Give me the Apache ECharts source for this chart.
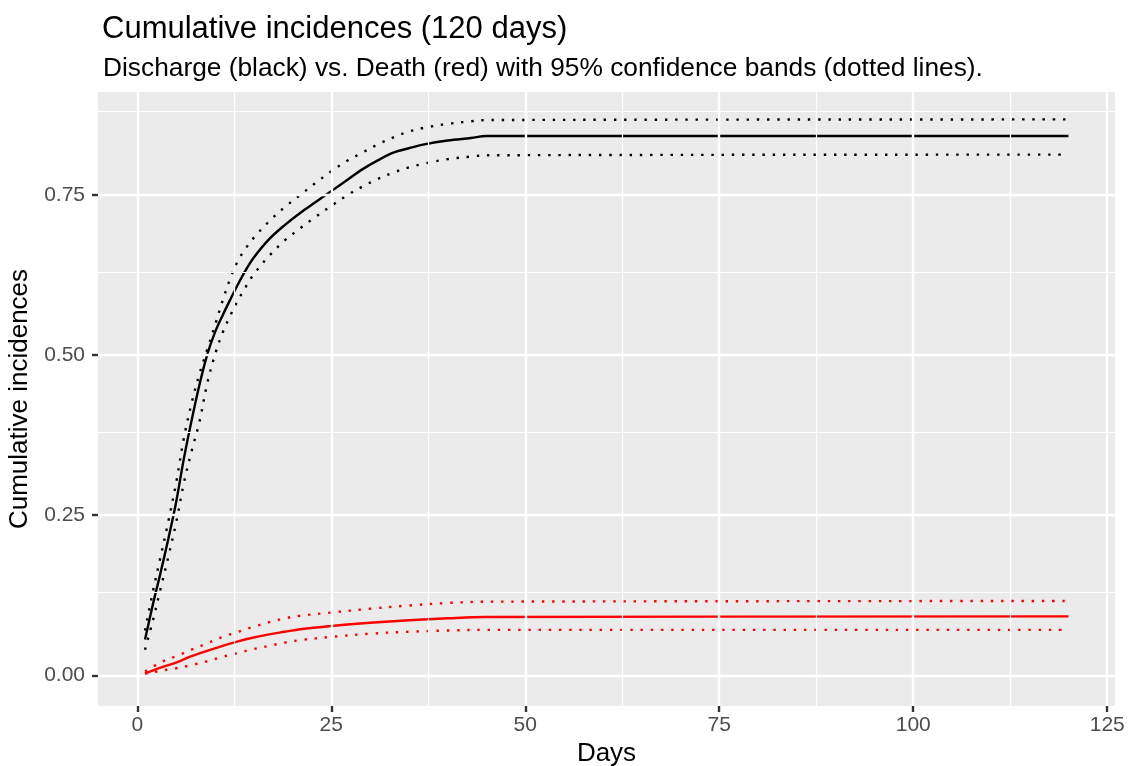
<!DOCTYPE html>
<html>
<head>
<meta charset="utf-8">
<script src="https://cdn.jsdelivr.net/npm/echarts@6/dist/echarts.min.js"></script>
<style>
html,body{margin:0;padding:0;background:#fff;}
#chart{width:1130px;height:766px;}
</style>
</head>
<body>
<div id="chart"></div>
<script>
// ---- data ----
const dischargeDays = [1, 2, 3, 4, 5, 6, 7, 8, 9, 10, 11, 12, 13, 14, 15, 17, 19, 21, 23, 25, 27, 29, 31, 33, 35, 37, 40, 43, 45, 120];
const discharge      = [0.056, 0.110, 0.160, 0.213, 0.270, 0.338, 0.398, 0.453, 0.500, 0.535, 0.562, 0.587, 0.611, 0.633, 0.652, 0.681, 0.703, 0.722, 0.739, 0.756, 0.773, 0.790, 0.804, 0.816, 0.823, 0.829, 0.835, 0.839, 0.842, 0.842];
const dischargeUpper = [0.070, 0.130, 0.185, 0.240, 0.300, 0.370, 0.425, 0.470, 0.508, 0.546, 0.585, 0.620, 0.648, 0.667, 0.683, 0.709, 0.731, 0.750, 0.769, 0.787, 0.803, 0.816, 0.829, 0.840, 0.849, 0.855, 0.861, 0.865, 0.867, 0.868];
const dischargeLower = [0.040, 0.085, 0.135, 0.185, 0.238, 0.300, 0.350, 0.395, 0.455, 0.500, 0.535, 0.562, 0.586, 0.607, 0.626, 0.655, 0.679, 0.698, 0.716, 0.733, 0.749, 0.763, 0.775, 0.785, 0.793, 0.799, 0.806, 0.810, 0.812, 0.813];

const deathDays  = [1, 3, 5, 7, 9, 11, 13, 15, 17, 19, 21, 25, 30, 35, 40, 45, 120];
const death      = [0.003, 0.012, 0.020, 0.030, 0.038, 0.046, 0.053, 0.059, 0.064, 0.068, 0.072, 0.077, 0.082, 0.086, 0.089, 0.091, 0.092];
const deathUpper = [0.006, 0.020, 0.030, 0.040, 0.050, 0.060, 0.068, 0.076, 0.083, 0.089, 0.093, 0.098, 0.104, 0.109, 0.113, 0.115, 0.116];
const deathLower = [0.002, 0.007, 0.011, 0.016, 0.022, 0.029, 0.035, 0.041, 0.046, 0.051, 0.055, 0.060, 0.065, 0.068, 0.070, 0.071, 0.071];

const xTicks = [0, 25, 50, 75, 100, 125];
const xMinor = [12.5, 37.5, 62.5, 87.5, 112.5];
const yTicks = [0, 0.25, 0.5, 0.75];
const yMinor = [0.125, 0.375, 0.625, 0.875];

const titleText = 'Cumulative incidences (120 days)';
const subtitleText = 'Discharge (black) vs. Death (red) with 95% confidence bands (dotted lines).';
const xTitle = 'Days';
const yTitle = 'Cumulative incidences';

// ---- chart ----
const FONT = '"Liberation Sans", Arial, Helvetica, sans-serif';
const pairs = (xs, ys) => xs.map((x, i) => [x, ys[i]]);
const LW = 2.4;

function lineSeries(name, xs, ys, color, dotted) {
  return {
    name, type: 'line', data: pairs(xs, ys), showSymbol: false, symbol: 'none',
    smooth: 0.35, z: 3, silent: true,
    lineStyle: { color, width: LW, type: dotted ? [2.4, 7.8] : 'solid', cap: 'butt' }
  };
}

const gridSeries = {
  type: 'line', data: [], z: 1, silent: true,
  markLine: {
    silent: true, symbol: ['none', 'none'], label: { show: false }, animation: false,
    data: [
      ...xMinor.map(v => ({ xAxis: v, lineStyle: { color: '#fff', width: 1.2, type: 'solid' } })),
      ...yMinor.map(v => ({ yAxis: v, lineStyle: { color: '#fff', width: 1.2, type: 'solid' } })),
      ...xTicks.map(v => ({ xAxis: v, lineStyle: { color: '#fff', width: 2.4, type: 'solid' } })),
      ...yTicks.map(v => ({ yAxis: v, lineStyle: { color: '#fff', width: 2.4, type: 'solid' } }))
    ]
  }
};

const chart = echarts.init(document.getElementById('chart'), null, { renderer: 'canvas' });
chart.setOption({
  animation: false,
  backgroundColor: '#ffffff',
  title: [
    { text: titleText, left: 97, top: 9, textStyle: { fontFamily: FONT, fontSize: 31, fontWeight: 'normal', color: '#000' } },
    { text: subtitleText, left: 98, top: 51, textStyle: { fontFamily: FONT, fontSize: 26.3, fontWeight: 'normal', color: '#000' } }
  ],
  grid: { left: 98, top: 92, width: 1017, height: 614, show: true, backgroundColor: '#EBEBEB', borderWidth: 0,
          containLabel: false, outerBoundsMode: 'none' },
  xAxis: {
    type: 'value', min: -5.06, max: 126.0,
    name: xTitle, nameLocation: 'middle', nameGap: 34,
    nameTextStyle: { fontFamily: FONT, fontSize: 26, color: '#000' },
    axisLine: { show: false, onZero: false },
    axisTick: { show: true, length: 6, lineStyle: { color: '#333333', width: 2.4 }, customValues: xTicks },
    axisLabel: { fontFamily: FONT, fontSize: 21, color: '#4D4D4D', margin: 9, customValues: xTicks },
    splitLine: { show: false }
  },
  yAxis: {
    type: 'value', min: -0.0479, max: 0.9108,
    name: yTitle, nameLocation: 'middle', nameGap: 59, nameRotate: 90,
    nameTextStyle: { fontFamily: FONT, fontSize: 26, color: '#000' },
    axisLine: { show: false, onZero: false },
    axisTick: { show: true, length: 6, lineStyle: { color: '#333333', width: 2.4 }, customValues: yTicks },
    axisLabel: { fontFamily: FONT, fontSize: 21, color: '#4D4D4D', margin: 13, customValues: yTicks,
      formatter: v => v.toFixed(2) },
    splitLine: { show: false }
  },
  series: [
    gridSeries,
    lineSeries('Discharge upper', dischargeDays, dischargeUpper, '#000000', true),
    lineSeries('Discharge lower', dischargeDays, dischargeLower, '#000000', true),
    lineSeries('Discharge', dischargeDays, discharge, '#000000', false),
    lineSeries('Death upper', deathDays, deathUpper, '#FF0000', true),
    lineSeries('Death lower', deathDays, deathLower, '#FF0000', true),
    lineSeries('Death', deathDays, death, '#FF0000', false)
  ]
});
</script>
</body>
</html>
